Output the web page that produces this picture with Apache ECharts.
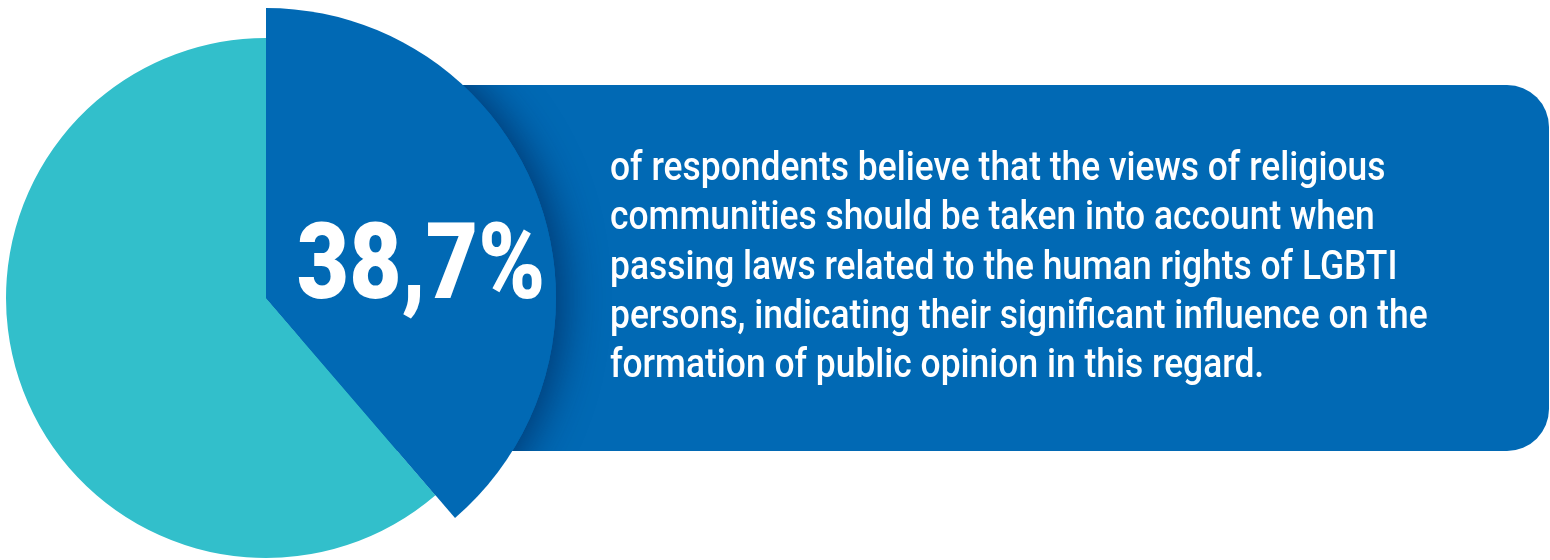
<!DOCTYPE html>
<html>
<head>
<meta charset="utf-8">
<script src="https://cdn.jsdelivr.net/npm/echarts@6/dist/echarts.min.js"></script>
<style>
  html, body { margin: 0; padding: 0; background: #ffffff; }
  #chart { width: 1550px; height: 560px; }
</style>
</head>
<body>
<div id="chart"></div>
<script>
// Survey share and its complement
const categories = ['Should be taken into account', 'Other responses'];
const shares = [38.7, 61.3];
const headline = '38,7%';
const bodyLines = [
  'of respondents believe that the views of religious',
  'communities should be taken into account when',
  'passing laws related to the human rights of LGBTI',
  'persons, indicating their significant influence on the',
  'formation of public opinion in this regard.'
];

const BLUE = '#0169B4';
const TEAL = '#32BFCB';
const CENTER = [266, 298];

const chart = echarts.init(document.getElementById('chart'), null, { renderer: 'canvas' });

function sliceData(colors) {
  return categories.map((name, i) => ({
    name,
    value: shares[i],
    itemStyle: colors[i]
  }));
}

const common = {
  type: 'pie',
  center: CENTER,
  startAngle: 90,
  clockwise: true,
  silent: true,
  label: { show: false },
  labelLine: { show: false },
  emphasis: { disabled: true },
  animation: false
};

const textEls = bodyLines.map((line, i) => ({
  type: 'text',
  x: 610,
  y: 170 + i * 49.3,
  scaleX: 0.885,
  z: 20,
  style: {
    text: line,
    x: 0, y: 0,
    fill: '#ffffff',
    font: '500 40px Roboto',
    verticalAlign: 'middle',
    align: 'left'
  }
}));

chart.setOption({
  backgroundColor: '#ffffff',
  graphic: [
    // text panel
    {
      type: 'rect',
      z: 1,
      shape: { x: 300, y: 85, width: 1249, height: 366, r: [0, 42, 42, 0] },
      style: { fill: BLUE }
    },
    // keep the slice shadow inside the panel
    {
      type: 'rect', z: 3,
      shape: { x: 0, y: 0, width: 1550, height: 85 },
      style: { fill: '#ffffff' }
    },
    {
      type: 'rect', z: 3,
      shape: { x: 0, y: 451, width: 1550, height: 109 },
      style: { fill: '#ffffff' }
    },
    {
      type: 'text',
      x: 421,
      y: 272,
      scaleX: 0.86,
      z: 20,
      style: {
        text: headline,
        x: 0, y: 0,
        fill: '#ffffff',
        font: '900 105px Roboto',
        align: 'center',
        verticalAlign: 'middle'
      }
    }
  ].concat(textEls),
  series: [
    // shadow cast by the raised slice
    Object.assign({}, common, {
      z: 2,
      radius: [0, 290],
      data: sliceData([
        { color: BLUE, shadowBlur: 40, shadowOffsetX: 8, shadowColor: 'rgba(0,25,70,0.6)' },
        { color: 'rgba(0,0,0,0)' }
      ])
    }),
    Object.assign({}, common, {
      z: 4,
      radius: [0, 260],
      data: sliceData([{ color: BLUE }, { color: TEAL }])
    }),
    Object.assign({}, common, {
      z: 5,
      radius: [0, 290],
      data: sliceData([{ color: BLUE }, { color: 'rgba(0,0,0,0)' }])
    })
  ]
});
</script>
</body>
</html>
